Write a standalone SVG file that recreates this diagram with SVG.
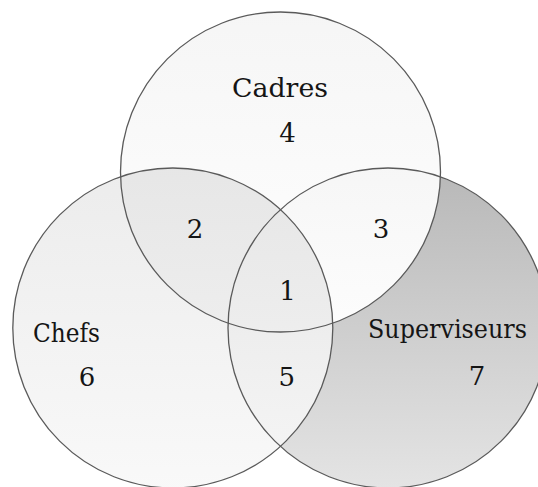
<svg xmlns="http://www.w3.org/2000/svg" width="538" height="487" viewBox="0 0 538 487">
  <style>
    .outline { fill: none; stroke: #5a5a5a; stroke-width: 1.3; }
    .lbl { font-family: "DejaVu Serif", "Liberation Serif", serif; font-size: 26px; fill: #151515; }
    .num { font-family: "DejaVu Serif", "Liberation Serif", serif; font-size: 26px; fill: #151515; text-anchor: middle; }
  </style>
  <defs>
    <linearGradient id="gTop" x1="0" y1="0" x2="0" y2="1">
      <stop offset="0" stop-color="#f5f5f5"/>
      <stop offset="1" stop-color="#ffffff"/>
    </linearGradient>
    <linearGradient id="gLeft" x1="0" y1="0" x2="0" y2="1">
      <stop offset="0" stop-color="#eaeaea"/>
      <stop offset="1" stop-color="#f8f8f8"/>
    </linearGradient>
    <linearGradient id="gRight" x1="0" y1="0" x2="0" y2="1">
      <stop offset="0" stop-color="#b8b8b8"/>
      <stop offset="1" stop-color="#e4e4e4"/>
    </linearGradient>
    <clipPath id="clipLeft">
      <circle cx="172.8" cy="328" r="160"/>
    </clipPath>
  </defs>
  <rect width="538" height="487" fill="#ffffff"/>

  <g id="node-superviseurs">
    <circle cx="388" cy="328" r="160" fill="url(#gRight)"/>
    <text class="lbl" x="368" y="338" textLength="159" lengthAdjust="spacingAndGlyphs">Superviseurs</text>
    <text class="num" x="477" y="385">7</text>
  </g>

  <g id="node-cadres">
    <circle cx="280.5" cy="172" r="160" fill="url(#gTop)" fill-opacity="0.95"/>
    <text class="lbl" x="232" y="97" textLength="96" lengthAdjust="spacingAndGlyphs">Cadres</text>
    <text class="num" x="287.5" y="142">4</text>
  </g>

  <g id="node-chefs">
    <circle cx="172.8" cy="328" r="160" fill="url(#gLeft)" fill-opacity="0.9"/>
    <circle cx="280.5" cy="172" r="160" fill="#000000" fill-opacity="0.02" clip-path="url(#clipLeft)"/>
    <text class="lbl" x="33" y="342" textLength="67" lengthAdjust="spacingAndGlyphs">Chefs</text>
    <text class="num" x="87" y="386">6</text>
  </g>

  <g id="connectors">
    <circle class="outline" cx="388" cy="328" r="160"/>
    <circle class="outline" cx="280.5" cy="172" r="160"/>
    <circle class="outline" cx="172.8" cy="328" r="160"/>
  </g>

  <g id="region-labels">
    <text class="num" x="195" y="238">2</text>
    <text class="num" x="381" y="238">3</text>
    <text class="num" x="287.5" y="300">1</text>
    <text class="num" x="286.7" y="386">5</text>
  </g>
</svg>
